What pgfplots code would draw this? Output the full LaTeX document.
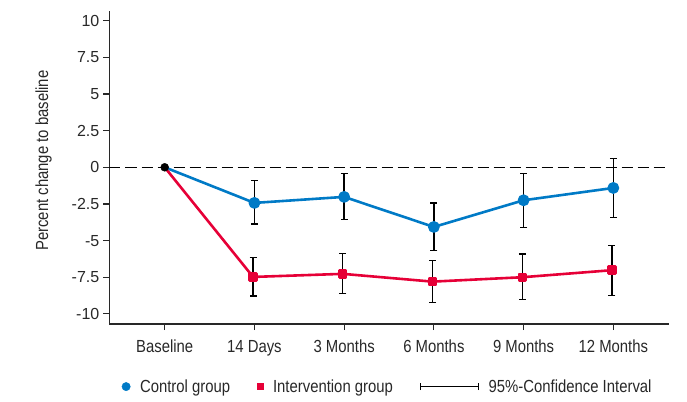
\documentclass[border=0pt]{standalone}
\usepackage{fontspec}
\setmainfont{Liberation Sans}[FakeStretch=0.85]
\newfontfamily\numfont{Liberation Sans}
\usepackage{pgfplots}
\pgfplotsset{compat=1.18}
\definecolor{cblue}{RGB}{0,122,198}
\definecolor{cred}{RGB}{230,0,55}
\definecolor{axgray}{RGB}{40,40,40}
\begin{document}
\begin{tikzpicture}
\begin{axis}[
  at={(0,0)}, anchor=south west,
  scale only axis, width=559pt, height=313pt,
  xmin=-0.615, xmax=5.615, ymin=-10.69, ymax=10.66,
  axis x line*=bottom, axis y line*=left,
  axis line style={axgray, line width=1.2pt},
  tick align=outside, major tick length=6pt,
  tick style={axgray, line width=1.2pt},
  xtick={0,1,2,3,4,5},
  xticklabels={Baseline,14 Days,3 Months,6 Months,9 Months,12 Months},
  ytick={-10,-7.5,-5,-2.5,0,2.5,5,7.5,10},
  yticklabels={-10,-7.5,-5,-2.5,0,2.5,5,7.5,10},
  xticklabel style={font=\fontsize{17.5}{18}\selectfont, text=axgray, anchor=base, inner sep=0pt, yshift=-22pt},
  yticklabel style={font=\numfont\fontsize{16}{16}\selectfont, text=axgray, anchor=east, inner sep=0pt, xshift=-4pt},
  ylabel={Percent change to baseline},
  every axis y label/.style={at={(axis description cs:-0.118,0.522)}, rotate=90, anchor=center, font=\fontsize{17.5}{18}\selectfont, text=axgray},
  legend style={draw=none, fill=none, at={(axis description cs:0.0215,-0.2)}, anchor=west,
    legend columns=3, font=\fontsize{17.5}{18}\selectfont, text=axgray, inner sep=0pt,
    /tikz/every odd column/.append style={column sep=7.5pt},
    /tikz/every even column/.append style={column sep=25pt}},
  legend cell align=left,
]
% zero line
\addplot[forget plot, black, line width=1.1pt, dash pattern=on 11pt off 5pt] coordinates {(-0.615,0) (5.615,0)};
% error bars
\addplot[forget plot, only marks, mark=none, error bars/.cd, y dir=both, y explicit, error mark=-,
  error bar style={black, line width=1.3pt}, error mark options={rotate=90, black, line width=1.3pt, mark size=3.5pt}]
  coordinates {
  (1,-2.43) += (0,1.53) -= (0,1.43)
  (2,-2.02) += (0,1.61) -= (0,1.55)
  (3,-4.07) += (0,1.64) -= (0,1.59)
  (4,-2.25) += (0,1.82) -= (0,1.86)
  (5,-1.41) += (0,2.02) -= (0,2.00)
  };
\addplot[forget plot, only marks, mark=none, error bars/.cd, y dir=both, y explicit, error mark=-,
  error bar style={black, line width=1.3pt}, error mark options={rotate=90, black, line width=1.3pt, mark size=3.5pt}]
  coordinates {
  (0.985,-7.48) += (0,1.32) -= (0,1.29)
  (1.985,-7.27) += (0,1.41) -= (0,1.36)
  (2.985,-7.80) += (0,1.44) -= (0,1.42)
  (3.985,-7.50) += (0,1.59) -= (0,1.54)
  (4.985,-7.02) += (0,1.70) -= (0,1.71)
  };
% control line
\addplot[forget plot, cblue, line width=2.6pt, line join=round, mark=*, mark indices={2,3,4,5,6}, mark size=4.6pt, mark options={fill=cblue, draw=none}]
  coordinates {(0,0) (1,-2.43) (2,-2.02) (3,-4.07) (4,-2.25) (5,-1.41)};
% intervention line
\addplot[forget plot, cred, line width=2.6pt, line join=round, mark=square*, mark indices={2,3,4,5,6}, mark size=3.4pt, mark options={fill=cred, draw=none}]
  coordinates {(0,0) (0.985,-7.48) (1.985,-7.27) (2.985,-7.80) (3.985,-7.50) (4.985,-7.02)};
% baseline point
\addplot[forget plot, only marks, mark=*, mark size=4pt, black] coordinates {(0,0)};
% legend
\addlegendimage{legend image code/.code={\fill[cblue] (4pt,0pt) circle (4.2pt);}}
\addlegendentry{Control group}
\addlegendimage{legend image code/.code={\fill[cred] (0pt,-3pt) rectangle (6pt,3pt);}}
\addlegendentry{Intervention group}
\addlegendimage{legend image code/.code={\draw[black, line width=1.2pt] (0pt,0pt) -- (58pt,0pt); \draw[black, line width=1.2pt] (0pt,-3.5pt) -- (0pt,3.5pt); \draw[black, line width=1.2pt] (58pt,-3.5pt) -- (58pt,3.5pt);}}
\addlegendentry{95\%-Confidence Interval}
\end{axis}
\pgfresetboundingbox
\path[use as bounding box] (-109.5pt,-77pt) rectangle (577.5pt,324pt);
\end{tikzpicture}
\end{document}
